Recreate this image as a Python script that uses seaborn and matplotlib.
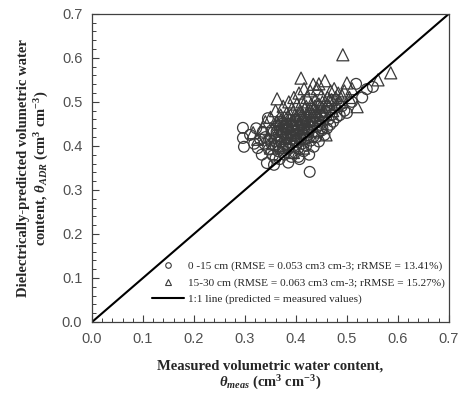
import numpy as np
import pandas as pd
import seaborn as sns
from matplotlib import pyplot as plt
from matplotlib.lines import Line2D

# %% Data

CircX = [0.296, 0.296, 0.298, 0.310, 0.318, 0.322, 0.325, 0.330, 0.333, 0.335,
         0.338, 0.340, 0.343, 0.345, 0.347, 0.350, 0.352, 0.355, 0.357, 0.360,
         0.362, 0.365, 0.366, 0.368, 0.370, 0.372, 0.374, 0.375, 0.377, 0.380,
         0.381, 0.383, 0.385, 0.386, 0.388, 0.390, 0.391, 0.393, 0.395, 0.396,
         0.398, 0.400, 0.401, 0.403, 0.405, 0.407, 0.408, 0.410, 0.412, 0.414,
         0.415, 0.417, 0.419, 0.420, 0.422, 0.424, 0.426, 0.427, 0.429, 0.431,
         0.433, 0.435, 0.437, 0.440, 0.442, 0.445, 0.448, 0.450, 0.453, 0.456,
         0.458, 0.461, 0.464, 0.467, 0.470, 0.473, 0.476, 0.480, 0.486, 0.490,
         0.495, 0.500, 0.510, 0.518, 0.530, 0.539, 0.551, 0.360, 0.385, 0.405,
         0.352, 0.358, 0.362, 0.368, 0.372, 0.376, 0.379, 0.383, 0.387, 0.392,
         0.394, 0.397, 0.402, 0.406, 0.409, 0.413, 0.416, 0.421, 0.425, 0.430,
         0.434, 0.438, 0.443, 0.447, 0.452]
CircY = [0.441, 0.418, 0.398, 0.425, 0.405, 0.440, 0.395, 0.415, 0.380, 0.432,
         0.405, 0.420, 0.361, 0.463, 0.392, 0.412, 0.435, 0.378, 0.357, 0.400,
         0.425, 0.388, 0.447, 0.370, 0.410, 0.430, 0.395, 0.452, 0.380, 0.420,
         0.405, 0.440, 0.362, 0.395, 0.430, 0.415, 0.375, 0.445, 0.400, 0.425,
         0.385, 0.458, 0.412, 0.435, 0.395, 0.370, 0.422, 0.448, 0.405, 0.430,
         0.388, 0.415, 0.460, 0.400, 0.440, 0.425, 0.380, 0.341, 0.412, 0.450,
         0.432, 0.398, 0.465, 0.420, 0.445, 0.410, 0.470, 0.435, 0.455, 0.425,
         0.478, 0.440, 0.460, 0.448, 0.470, 0.455, 0.485, 0.465, 0.470, 0.490,
         0.480, 0.475, 0.500, 0.541, 0.510, 0.529, 0.534, 0.372, 0.392, 0.375,
         0.405, 0.418, 0.432, 0.398, 0.415, 0.428, 0.402, 0.418, 0.408, 0.422,
         0.435, 0.412, 0.428, 0.440, 0.415, 0.425, 0.438, 0.418, 0.432, 0.442,
         0.420, 0.452, 0.430, 0.448, 0.440]

TriX = [0.316, 0.325, 0.335, 0.340, 0.345, 0.350, 0.353, 0.356, 0.360, 0.363,
        0.365, 0.368, 0.370, 0.372, 0.375, 0.377, 0.380, 0.382, 0.384, 0.386,
        0.388, 0.390, 0.392, 0.394, 0.396, 0.398, 0.400, 0.402, 0.404, 0.406,
        0.408, 0.410, 0.410, 0.412, 0.414, 0.416, 0.418, 0.420, 0.422, 0.424,
        0.426, 0.428, 0.430, 0.432, 0.434, 0.436, 0.438, 0.440, 0.442, 0.445,
        0.445, 0.448, 0.450, 0.452, 0.455, 0.457, 0.459, 0.462, 0.465, 0.468,
        0.470, 0.472, 0.475, 0.478, 0.480, 0.483, 0.486, 0.490, 0.492, 0.495,
        0.500, 0.505, 0.510, 0.520, 0.561, 0.586, 0.350, 0.375, 0.395, 0.415,
        0.362, 0.367, 0.371, 0.376, 0.381, 0.385, 0.389, 0.393, 0.397, 0.401,
        0.405, 0.409, 0.413, 0.417, 0.421, 0.425, 0.429, 0.433, 0.437, 0.441,
        0.446, 0.451, 0.456, 0.461, 0.466]
TriY = [0.430, 0.415, 0.440, 0.455, 0.420, 0.465, 0.438, 0.405, 0.480, 0.507,
        0.450, 0.425, 0.470, 0.440, 0.490, 0.455, 0.418, 0.475, 0.445, 0.500,
        0.460, 0.430, 0.485, 0.450, 0.510, 0.470, 0.440, 0.495, 0.460, 0.520,
        0.480, 0.554, 0.450, 0.500, 0.470, 0.530, 0.455, 0.490, 0.510, 0.445,
        0.475, 0.525, 0.495, 0.460, 0.540, 0.485, 0.505, 0.470, 0.530, 0.495,
        0.541, 0.480, 0.515, 0.500, 0.470, 0.548, 0.425, 0.510, 0.490, 0.525,
        0.505, 0.480, 0.530, 0.510, 0.495, 0.520, 0.500, 0.515, 0.607, 0.525,
        0.543, 0.510, 0.530, 0.489, 0.550, 0.566, 0.395, 0.400, 0.385, 0.395,
        0.455, 0.440, 0.460, 0.445, 0.462, 0.450, 0.470, 0.458, 0.445, 0.468,
        0.452, 0.475, 0.462, 0.485, 0.470, 0.458, 0.480, 0.470, 0.490, 0.478,
        0.465, 0.488, 0.478, 0.495, 0.505]

OneToOne = [0.0, 0.7]
Ticks = [0.0, 0.1, 0.2, 0.3, 0.4, 0.5, 0.6, 0.7]

Labels = ['0 -15 cm (RMSE = 0.053 cm3 cm-3; rRMSE = 13.41%)',
          '15-30 cm (RMSE = 0.063 cm3 cm-3; rRMSE = 15.27%)',
          '1:1 line (predicted = measured values)']

dfC = pd.DataFrame({'Meas': CircX, 'Pred': CircY})
dfT = pd.DataFrame({'Meas': TriX, 'Pred': TriY})

# %% Style

sns.set_style('ticks')
plt.rcParams['font.family'] = ['Liberation Serif', 'DejaVu Serif']
plt.rcParams['mathtext.fontset'] = 'custom'
plt.rcParams['mathtext.rm'] = 'Liberation Serif:bold'
plt.rcParams['mathtext.it'] = 'Liberation Serif:italic:bold'
plt.rcParams['mathtext.bf'] = 'Liberation Serif:bold'

EdgeCol = '#3a3a3a'
AxCol = '#404040'

# %% Plot

fig, ax = plt.subplots(figsize=(4.58, 3.96), dpi=100)
fig.subplots_adjust(left=0.201, right=0.980, bottom=0.187, top=0.965)

sns.scatterplot(data=dfC, x='Meas', y='Pred', ax=ax, marker='o', s=60,
                facecolors='none', edgecolor=EdgeCol, linewidth=0.9)
sns.scatterplot(data=dfT, x='Meas', y='Pred', ax=ax, marker='^', s=75,
                facecolors='none', edgecolor=EdgeCol, linewidth=0.9)
ax.plot(OneToOne, OneToOne, color='k', lw=1.5)

ax.set_xlim(0, 0.7)
ax.set_ylim(0, 0.7)
ax.set_xticks(Ticks)
ax.set_yticks(Ticks)
ax.set_xticklabels([f'{t:.1f}' for t in Ticks], family='Liberation Sans')
ax.set_yticklabels([f'{t:.1f}' for t in Ticks], family='Liberation Sans')
ax.set_xticks(np.arange(0, 0.701, 0.02), minor=True)
ax.set_yticks(np.arange(0, 0.701, 0.02), minor=True)
ax.tick_params(which='major', direction='in', length=5, width=0.8,
               color=AxCol, labelcolor='#505050', labelsize=10.5, pad=7)
ax.tick_params(which='minor', direction='in', length=3, width=0.7,
               color=AxCol)
for sp in ax.spines.values():
    sp.set_visible(True)
    sp.set_color(AxCol)
    sp.set_linewidth(0.9)

ax.set_xlabel('Measured volumetric water content,\n'
              r'$\theta_{meas}$ (cm$^3$ cm$^{-3}$)',
              fontsize=10.5, fontweight='bold', labelpad=10,
              linespacing=1.1)
ax.set_ylabel('Dielectrically-predicted volumetric water\n'
              r'content, $\theta_{ADR}$ (cm$^3$ cm$^{-3}$)',
              fontsize=10.5, fontweight='bold', labelpad=8)

Handles = [Line2D([], [], ls='none', marker='o', ms=4, mfc='none',
                  mec=EdgeCol, mew=0.8),
           Line2D([], [], ls='none', marker='^', ms=4.5, mfc='none',
                  mec=EdgeCol, mew=0.8),
           Line2D([], [], color='k', lw=1.5)]
ax.legend(Handles, Labels, loc='lower left', bbox_to_anchor=(0.14, 0.025),
          frameon=False, fontsize=8.1, handlelength=2.8, handletextpad=0.35,
          labelspacing=0.55)

fig.savefig('out.png', dpi=100)
